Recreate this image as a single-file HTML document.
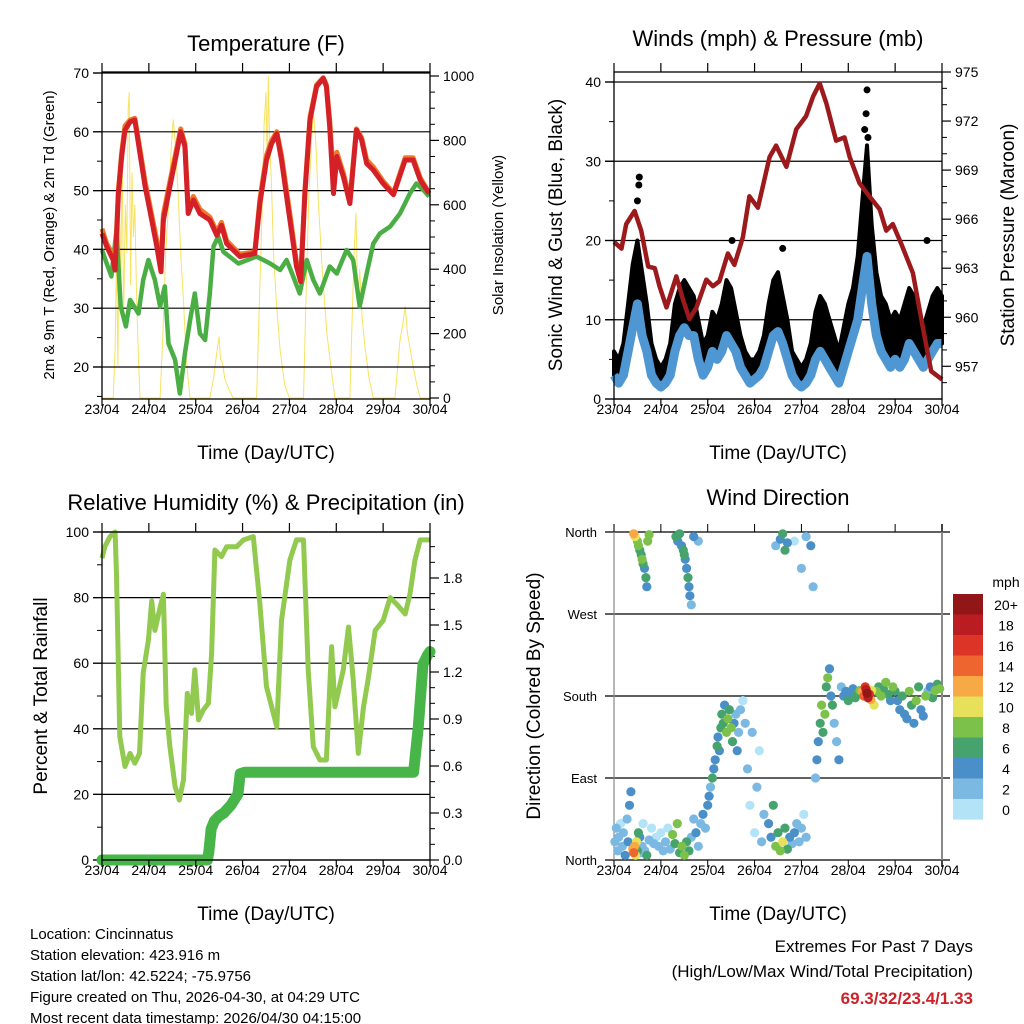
<!DOCTYPE html>
<html><head><meta charset="utf-8"><style>
body{margin:0;background:#fff;}
svg{display:block;font-family:"Liberation Sans",sans-serif;}
</style></head><body>
<svg id="c" width="1024" height="1024" viewBox="0 0 1024 1024"></svg>
<script>
// ---------- DATA ----------
const tempTimes=[0,0.1,0.24,0.28,0.35,0.42,0.49,0.6,0.7,0.81,0.92,1.02,1.17,1.26,1.31,1.45,1.59,1.68,1.77,1.84,1.95,2.09,2.3,2.45,2.55,2.66,2.94,3.26,3.37,3.51,3.62,3.73,3.83,4.01,4.15,4.24,4.33,4.44,4.58,4.72,4.79,4.86,4.94,5.01,5.15,5.29,5.43,5.54,5.65,5.79,6.0,6.22,6.47,6.64,6.79,6.98];
const temp2m=[42.7,40.5,38.2,36.5,49.5,55.8,60.3,61.7,62,56.3,50.7,46.7,40.5,36.2,45,50.7,56.3,60,57.5,46.1,48.4,46.1,45,42.4,44.1,41,38.8,39.3,47.8,55.2,58,59.7,55.2,45,37.1,34.5,49.5,62,67.7,69.1,67.7,60.9,49.5,55.8,52.4,47.8,60.3,58.6,54.6,53.5,51.2,49.3,55.2,55.2,51.8,49.5];
const temp9m=[43.5,41,39,37.5,50,56.5,61,62,62.3,57,51.5,47.5,41.5,37,46,51.5,57,60.5,58,47,49,46.8,45.5,43,44.6,41.5,39.2,39.6,48.5,56,58.5,60,56,46,37.8,35,50,62.5,68,69.2,68,62,52,56.5,53,48.5,60.5,59,55.2,54,51.6,49.6,55.6,55.6,52.2,49.6];
const dewTimes=[0,0.1,0.2,0.31,0.4,0.51,0.6,0.78,0.88,0.99,1.13,1.24,1.34,1.42,1.56,1.66,1.77,1.88,1.98,2.09,2.2,2.3,2.38,2.48,2.59,2.91,3.3,3.59,3.8,3.94,4.08,4.22,4.37,4.51,4.65,4.86,5.01,5.22,5.36,5.5,5.65,5.79,5.93,6.15,6.36,6.57,6.71,6.86,6.98];
const dewValues=[39.9,37.6,35.4,43.3,30.3,26.9,31.4,29.1,34.8,38.2,34.8,30.3,33.7,24,21.2,15.5,22.3,28,32.5,25.7,24.6,32.5,40.5,42.2,39.6,37.6,38.8,37.6,36.5,38.2,35.4,32.5,38.2,34.8,32.5,37.1,35.9,39.9,38.2,30.3,35.9,41,42.7,43.9,46.1,49.5,51.2,50.1,49];
const solarTimes=[0,0.24,0.28,0.31,0.34,0.37,0.4,0.43,0.46,0.5,0.53,0.56,0.58,0.61,0.64,0.67,0.7,0.74,0.78,0.81,1.24,1.3,1.36,1.42,1.48,1.52,1.56,1.62,1.68,1.74,1.8,1.88,2.3,2.38,2.44,2.5,2.53,2.57,2.62,2.7,2.8,3.3,3.36,3.42,3.46,3.5,3.53,3.55,3.58,3.62,3.66,3.72,3.8,3.9,4.0,4.3,4.36,4.42,4.48,4.51,4.56,4.62,4.7,4.8,4.9,4.97,5.29,5.33,5.38,5.42,5.46,5.5,5.55,5.62,5.7,5.79,6.25,6.3,6.36,6.42,6.47,6.52,6.58,6.65,6.72,6.79,7.0];
const solarValues=[0,0,150,450,100,650,300,800,250,600,450,900,950,350,700,500,600,300,120,0,0,200,450,600,780,865,800,650,450,300,120,0,0,60,130,190,120,110,60,30,0,0,300,600,850,950,700,1000,800,650,450,300,150,40,0,0,350,650,820,895,800,600,400,200,80,0,0,200,450,575,300,400,250,150,60,0,0,80,180,230,285,200,150,90,40,0,0];
const windTimes=[0,0.1,0.2,0.3,0.4,0.5,0.6,0.7,0.8,0.9,1,1.1,1.2,1.3,1.4,1.5,1.6,1.7,1.8,1.9,2,2.1,2.2,2.3,2.4,2.5,2.6,2.7,2.8,2.9,3,3.1,3.2,3.3,3.4,3.5,3.6,3.7,3.8,3.9,4,4.1,4.2,4.3,4.4,4.5,4.6,4.7,4.8,4.9,5,5.1,5.2,5.3,5.4,5.5,5.6,5.7,5.8,5.9,6,6.1,6.2,6.3,6.4,6.5,6.6,6.7,6.8,6.9,7];
const windSpeed=[3,2,3,6,9,12,8,6,3,2,1.5,2,3,6,8,9,8,8,5,3,4,6,5,6,8,7,6,4,3,2,2.5,3,4,6,8,8.5,7,5,3,2,1.5,2,3,5,6,5,4,3,2,4,6,8,10,14,18,12,8,6,5,4,5,4,5,7,6,5,4,5,6,7,7];
const gustSpeed=[6,5,7,12,17,20,16,12,7,5,4,5,7,12,14,15,14,13,10,7,8,11,10,12,15,14,11,8,6,5,5,6,8,12,15,16,13,10,6,5,4,5,7,11,13,12,10,8,6,9,12,14,18,25,32,22,16,13,12,10,11,10,12,14,13,11,9,11,13,14,13];
const gustPeakTimes=[0.5,0.53,0.54,2.52,3.6,5.35,5.38,5.4,5.42,6.68];
const gustPeakValues=[25,27,28,20,19,34,36,39,33,20];
const presTimes=[0,0.16,0.26,0.44,0.58,0.73,0.87,0.97,1.12,1.33,1.47,1.61,1.76,1.97,2.11,2.25,2.43,2.57,2.75,2.89,3.07,3.32,3.46,3.68,3.89,4.1,4.25,4.39,4.53,4.74,4.92,5.03,5.24,5.45,5.67,5.81,5.95,6.13,6.38,6.59,6.77,7];
const presValues=[964.6,964.2,965.7,966.5,965.3,963.1,963,961.9,960.6,962.5,961.1,959.9,960.6,962.3,961.9,962.2,963.9,963.2,964.9,967.4,966.7,969.8,970.5,969.2,971.5,972.3,973.5,974.3,973.1,970.8,971,969.8,968.2,967.4,966.6,965.3,965.7,964.5,962.7,959.4,956.7,956.2];
const rhTimes=[0,0.06,0.17,0.28,0.31,0.38,0.49,0.6,0.7,0.8,0.88,0.99,1.06,1.13,1.24,1.31,1.37,1.45,1.56,1.65,1.74,1.82,1.91,1.98,2.06,2.16,2.27,2.34,2.41,2.55,2.66,2.87,3.02,3.23,3.37,3.51,3.73,3.83,4.01,4.15,4.3,4.4,4.51,4.65,4.79,4.9,4.97,5.15,5.26,5.36,5.47,5.58,5.68,5.83,6,6.15,6.29,6.47,6.57,6.68,6.79,7];
const rhValues=[92,95.5,98.6,100,87,37.6,28.5,32.5,29.5,32.5,57,67,79,70,77,81,47,34.5,22.4,18.3,24.4,50.8,44.7,58,42.7,45.7,47.8,63,94.5,92.5,95.5,95.5,97.6,98.6,78,52.8,40.6,73,91.5,97.6,97.6,58,34.5,30.5,30.5,65,46.7,58,71,55,32.5,46.7,55,70,73,80,78,75,81,91.5,97.6,97.6];
const rainTimes=[0,2.25,2.28,2.33,2.4,2.5,2.6,2.75,2.9,2.95,3.05,6.65,6.75,6.85,6.95,7];
const rainValues=[0,0,0.05,0.2,0.25,0.28,0.3,0.35,0.42,0.55,0.56,0.56,0.85,1.25,1.31,1.33];
const dirTimes=[0.02,0.05,0.08,0.1,0.14,0.18,0.2,0.24,0.28,0.3,0.33,0.36,0.4,0.42,0.44,0.46,0.48,0.5,0.52,0.55,0.58,0.6,0.62,0.66,0.7,0.75,0.8,0.85,
0.42,0.45,0.5,0.52,0.55,0.58,0.6,0.62,0.65,0.68,0.7,0.72,0.75,
0.9,0.95,1.0,1.05,1.1,1.15,1.2,1.25,1.3,1.35,1.4,1.45,1.5,1.55,1.6,1.65,1.7,1.75,1.8,
1.32,1.36,1.4,1.44,1.48,1.5,1.52,1.55,1.58,1.6,1.62,1.65,1.7,1.8,
1.85,1.9,1.95,2.0,2.03,2.06,2.1,2.13,2.16,2.2,2.22,2.25,2.28,
2.3,2.33,2.36,2.4,2.43,2.46,2.5,2.53,2.56,2.6,2.63,2.66,2.7,2.75,2.8,
2.85,2.9,2.95,3.0,3.05,3.1,3.15,3.2,
3.3,3.35,3.4,3.45,3.5,3.55,3.6,3.65,3.7,3.75,3.8,3.85,3.9,3.95,4.0,4.05,4.1,
3.45,3.55,3.6,3.65,3.7,3.85,4.0,4.1,4.2,4.25,
4.3,4.33,4.36,4.4,4.43,4.46,4.5,4.53,4.56,4.6,4.63,4.66,4.7,4.75,4.8,
4.85,4.9,4.95,5.0,5.05,5.1,5.15,5.2,5.25,
5.3,5.33,5.36,5.38,5.4,5.42,5.45,5.48,5.5,5.55,
5.6,5.65,5.7,5.75,5.8,5.85,5.9,5.95,6.0,
6.05,6.1,6.15,6.2,6.25,6.3,6.35,6.4,6.45,6.5,6.55,6.6,6.65,6.7,6.75,6.8,6.85,6.9,6.95];
const dirValues=[20,35,10,25,40,15,30,5,45,20,60,75,12,8,15,5,20,10,30,25,8,15,40,10,5,22,35,18,
358,355,350,345,340,335,330,325,320,310,300,350,357,
25,15,30,10,20,35,12,28,18,40,8,15,5,20,10,25,45,30,15,
355,350,358,345,340,335,330,320,310,300,290,280,355,350,
40,50,35,60,70,80,90,100,110,125,135,120,145,
160,150,170,140,155,165,145,130,150,160,120,140,165,175,150,
100,60,140,30,80,120,20,50,
40,25,60,15,30,10,20,35,12,25,18,30,40,20,35,50,25,
345,352,358,340,348,350,320,355,345,300,
90,110,130,150,170,140,160,190,200,210,180,170,150,130,110,
190,180,185,175,182,188,178,183,186,
185,180,190,187,183,178,182,176,186,170,
185,190,180,188,195,182,175,190,185,
175,165,180,160,155,185,170,150,175,190,165,158,180,185,190,178,186,193,188];
const dirSpeeds=[2,2,3,2,1,3,2,4,3,5,4,4,13,14,12,11,10,7,6,5,3,2,1,3,7,2,1,2,
12,10,9,8,6,7,8,6,5,6,4,8,9,
1,2,1,2,3,1,2,8,7,8,7,9,8,6,7,2,3,4,2,
6,5,7,4,6,7,5,4,6,5,4,3,4,2,
3,4,2,5,4,3,6,4,5,6,5,4,6,
6,7,5,8,9,7,8,6,4,3,4,2,2,1,3,
2,1,2,1,3,1,2,2,
4,5,6,8,7,9,10,6,7,5,3,4,2,3,2,1,2,
2,5,7,6,4,1,2,3,4,2,
3,4,5,6,8,7,9,6,8,5,4,7,3,2,4,
3,4,5,6,5,4,7,6,8,
12,14,16,18,20,19,17,13,11,10,
8,7,9,6,8,7,5,8,6,
5,4,6,5,4,8,7,5,9,6,4,5,8,3,5,7,8,6,8];
const dayLabels=["23/04","24/04","25/04","26/04","27/04","28/04","29/04","30/04"];
const speedLabels=["20+","18","16","14","12","10","8","6","4","2","0"];
const speedColors=["#921618","#bb1c22","#dc3427","#ef6530","#f6a944","#e6e05a","#7cc24a","#47a36d","#4a8fc8","#7cb9e2","#b3e3f7"];

// ---------- DRAW ----------
const NS="http://www.w3.org/2000/svg";
const svg=document.getElementById('c');
function mk(tag,attrs,parent){const e=document.createElementNS(NS,tag);for(const k in attrs)e.setAttribute(k,attrs[k]);(parent||svg).appendChild(e);return e;}
function txt(s,x,y,size,anchor,parent,extra){const e=mk('text',Object.assign({x:x,y:y,'font-size':size,'text-anchor':anchor||'middle',fill:'#000'},extra||{}),parent);e.textContent=s;return e;}
function lin(a,b,c,d){return x=>c+(x-a)*(d-c)/(b-a);}
function path(xs,ys,fx,fy){return xs.map((t,i)=>(i?'L':'M')+fx(t).toFixed(1)+','+fy(ys[i]).toFixed(1)).join('');}

function panel(name,x0,x1,yT,yB){
  const g=mk('g',{});
  
  
  const fx=lin(0,7,x0,x1);
  return {g,fx,x0,x1,yT,yB};
}
function frame(P){
  const g=P.g;
  mk('rect',{x:P.x0,y:P.yT,width:P.x1-P.x0,height:P.yB-P.yT,fill:'none',stroke:'#000','stroke-width':1.3},g);
  const tg=mk('g',{},g);
  
  
  dayLabels.forEach((l,i)=>{
    const x=P.fx(i);
    mk('line',{x1:x,x2:x,y1:P.yT-9,y2:P.yT,stroke:'#000','stroke-width':1.2},tg);
    mk('line',{x1:x,x2:x,y1:P.yB,y2:P.yB+7,stroke:'#000','stroke-width':1.2},tg);
    txt(l,x,P.yB+15,14,'middle',tg);
  });
  const t=txt('Time (Day/UTC)',(P.x0+P.x1)/2,P.yB+60,19,'middle',g);
  
  
}
function yaxis(P,fy,ticks,labels,side,minor,grid){
  const g=mk('g',{},P.g);
  
  
  const x=side==='left'?P.x0:P.x1, d=side==='left'?-1:1;
  (minor||[]).forEach(v=>mk('line',{x1:x,x2:x+d*5,y1:fy(v),y2:fy(v),stroke:'#000','stroke-width':1},g));
  ticks.forEach((v,i)=>{
    const y=fy(v);
    if(grid) mk('line',{x1:P.x0-9,x2:P.x1,y1:y,y2:y,stroke:'#000','stroke-width':1.2},g);
    mk('line',{x1:x,x2:x+d*9,y1:y,y2:y,stroke:'#000','stroke-width':1.2},g);
    txt(labels[i],x+d*13,y+5,14,side==='left'?'end':'start',g);
  });
}
function vtitle(s,x,y,size,parent,name){
  const t=txt(s,x,y,size,'middle',parent,{transform:'rotate(-90 '+x+' '+y+')'});
  
  
}
function title(s,x,y,name){const t=txt(s,x,y,22,'middle');}

// Temperature
{
  const P=panel('temperature-panel',102,430,72,399);
  const fy=lin(70,20,73,367), fs=lin(0,1000,398,76);
  const sol=mk('path',{d:path(solarTimes,solarValues,P.fx,fs),fill:'none',stroke:'#f7df4f','stroke-width':1,opacity:0.9},P.g);
  
  
  yaxis(P,fy,[20,30,40,50,60,70],['20','30','40','50','60','70'],'left',[15,25,35,45,55,65],true);
  yaxis(P,fs,[0,200,400,600,800,1000],['0','200','400','600','800','1000'],'right',[50,100,150,250,300,350,450,500,550,650,700,750,850,900,950]);
  const dp=mk('path',{d:path(dewTimes,dewValues,P.fx,fy),fill:'none',stroke:'#4aae44','stroke-width':4.5,'stroke-linejoin':'round'},P.g);
  
  
  const o=mk('path',{d:path(tempTimes,temp9m,P.fx,fy),fill:'none',stroke:'#f07a2a','stroke-width':5,'stroke-linejoin':'round'},P.g);
  
  
  const r=mk('path',{d:path(tempTimes,temp2m,P.fx,fy),fill:'none',stroke:'#d42027','stroke-width':5,'stroke-linejoin':'round'},P.g);
  
  
  frame(P);
  title('Temperature (F)',266,51,'temperature-title');
  vtitle('2m & 9m T (Red, Orange) & 2m Td (Green)',54,235,15,P.g,'temperature-y-axis-title');
  vtitle('Solar Insolation (Yellow)',503,235,15,P.g,'solar-y-axis-title');
}
// Winds
{
  const P=panel('winds-panel',614,942,72,399);
  const fy=lin(0,40,399,82), fp=lin(955,975,399,72);
  yaxis(P,fy,[0,10,20,30,40],['0','10','20','30','40'],'left',[5,15,25,35],true);
  yaxis(P,fp,[957,960,963,966,969,972,975],['957','960','963','966','969','972','975'],'right',[956,958,959,961,962,964,965,967,968,970,971,973,974]);
  const area='M'+windTimes.map((t,i)=>P.fx(t).toFixed(1)+','+fy(gustSpeed[i]).toFixed(1)).join('L')+'L'+windTimes.slice().reverse().map((t,j)=>{const i=windTimes.length-1-j;return P.fx(t).toFixed(1)+','+fy(windSpeed[i]).toFixed(1);}).join('L')+'Z';
  const gb=mk('path',{d:area,fill:'#000',stroke:'#000','stroke-width':4,'stroke-linejoin':'round'},P.g);
  
  
  gustPeakTimes.forEach((t,i)=>{
    const c=mk('circle',{cx:P.fx(t),cy:fy(gustPeakValues[i]),r:3.5,fill:'#000'},P.g);
    
    
  });
  const wl=mk('path',{d:path(windTimes,windSpeed,P.fx,fy),fill:'none',stroke:'#4f97d2','stroke-width':9,'stroke-linejoin':'round'},P.g);
  
  
  const pl=mk('path',{d:path(presTimes,presValues,P.fx,fp),fill:'none',stroke:'#9c1a1c','stroke-width':4.5,'stroke-linejoin':'round'},P.g);
  
  
  frame(P);
  title('Winds (mph) & Pressure (mb)',778,46,'winds-title');
  vtitle('Sonic Wind & Gust (Blue, Black)',562,235,19,P.g,'wind-y-axis-title');
  vtitle('Station Pressure (Maroon)',1014,235,19,P.g,'pressure-y-axis-title');
}
// RH
{
  const P=panel('humidity-panel',102,430,532,860);
  const fy=lin(0,100,860,532), fr=lin(0,1.8,860,578);
  yaxis(P,fy,[0,20,40,60,80,100],['0','20','40','60','80','100'],'left',[10,30,50,70,90],true);
  yaxis(P,fr,[0,0.3,0.6,0.9,1.2,1.5,1.8],['0.0','0.3','0.6','0.9','1.2','1.5','1.8'],'right',[0.1,0.2,0.4,0.5,0.7,0.8,1.0,1.1,1.3,1.4,1.6,1.7,1.9,2.0]);
  const rl=mk('path',{d:path(rhTimes,rhValues,P.fx,fy),fill:'none',stroke:'#92c94f','stroke-width':5,'stroke-linejoin':'round'},P.g);
  
  
  const pr=mk('path',{d:path(rainTimes,rainValues,P.fx,fr),fill:'none',stroke:'#48b548','stroke-width':11,'stroke-linejoin':'round','stroke-linecap':'round'},P.g);
  
  
  frame(P);
  title('Relative Humidity (%) & Precipitation (in)',266,510,'humidity-title');
  vtitle('Percent & Total Rainfall',47,696,19,P.g,'humidity-y-axis-title');
}
// Wind direction
{
  const P=panel('wind-direction-panel',614,942,532,860);
  const fy=lin(0,360,860,532);
  const g=mk('g',{},P.g);
  
  
  [[0,'North'],[90,'East'],[180,'South'],[270,'West'],[360,'North']].forEach(([v,l])=>{
    const y=fy(v);
    mk('line',{x1:605,x2:950,y1:y,y2:y,stroke:'#000','stroke-width':1.2},g);
    txt(l,597,y+5,13,'end',g);
  });
  mk('line',{x1:P.x0,x2:P.x0,y1:P.yT-8,y2:P.yB+7,stroke:'#888','stroke-width':1.2},P.g);
  mk('line',{x1:P.x1,x2:P.x1,y1:P.yT-8,y2:P.yB+7,stroke:'#888','stroke-width':2},P.g);
  dayLabels.forEach((l,i)=>{
    const x=P.fx(i);
    mk('line',{x1:x,x2:x,y1:P.yT-8,y2:P.yT,stroke:'#000','stroke-width':1},P.g);
    mk('line',{x1:x,x2:x,y1:P.yB,y2:P.yB+7,stroke:'#000','stroke-width':1},P.g);
    txt(l,x,P.yB+15,14,'middle',P.g);
  });
  const sc=mk('g',{},P.g);
  
  
  const order=dirSpeeds.map((s,i)=>i).sort((a,b)=>dirSpeeds[a]-dirSpeeds[b]);
  order.forEach(i=>{
    const s=dirSpeeds[i];
    const idx=Math.max(0,10-Math.min(10,Math.floor(s/2)));
    const c=mk('circle',{cx:P.fx(dirTimes[i]).toFixed(1),cy:fy(dirValues[i]).toFixed(1),r:4.6,fill:speedColors[idx]},sc);
    
    
  });
  const t=txt('Time (Day/UTC)',778,920,19,'middle');
  
  
  title('Wind Direction',778,505,'wind-direction-title');
  vtitle('Direction (Colored By Speed)',540,696,19,P.g,'direction-y-axis-title');
  const lg=mk('g',{});
  
  
  txt('mph',1006,587,14,'middle',lg);
  speedLabels.forEach((l,i)=>{
    const y=594+i*20.5;
    const r=mk('rect',{x:953,y:y,width:30,height:20.6,fill:speedColors[i]},lg);
    
    
    txt(l,1006,y+16,14,'middle',lg);
  });
}
// footer text
{
  const g=mk('g',{});
  
  
  ['Location: Cincinnatus','Station elevation: 423.916 m','Station lat/lon: 42.5224; -75.9756','Figure created on Thu, 2026-04-30, at 04:29 UTC','Most recent data timestamp: 2026/04/30 04:15:00'].forEach((s,i)=>txt(s,30,939+i*21,15,'start',g));
  const e=mk('g',{});
  
  
  txt('Extremes For Past 7 Days',973,952,17,'end',e);
  txt('(High/Low/Max Wind/Total Precipitation)',973,977,17,'end',e);
  txt('69.3/32/23.4/1.33',973,1004,17,'end',e,{fill:'#cc2229','font-weight':'bold'});
}
</script>
</body></html>
